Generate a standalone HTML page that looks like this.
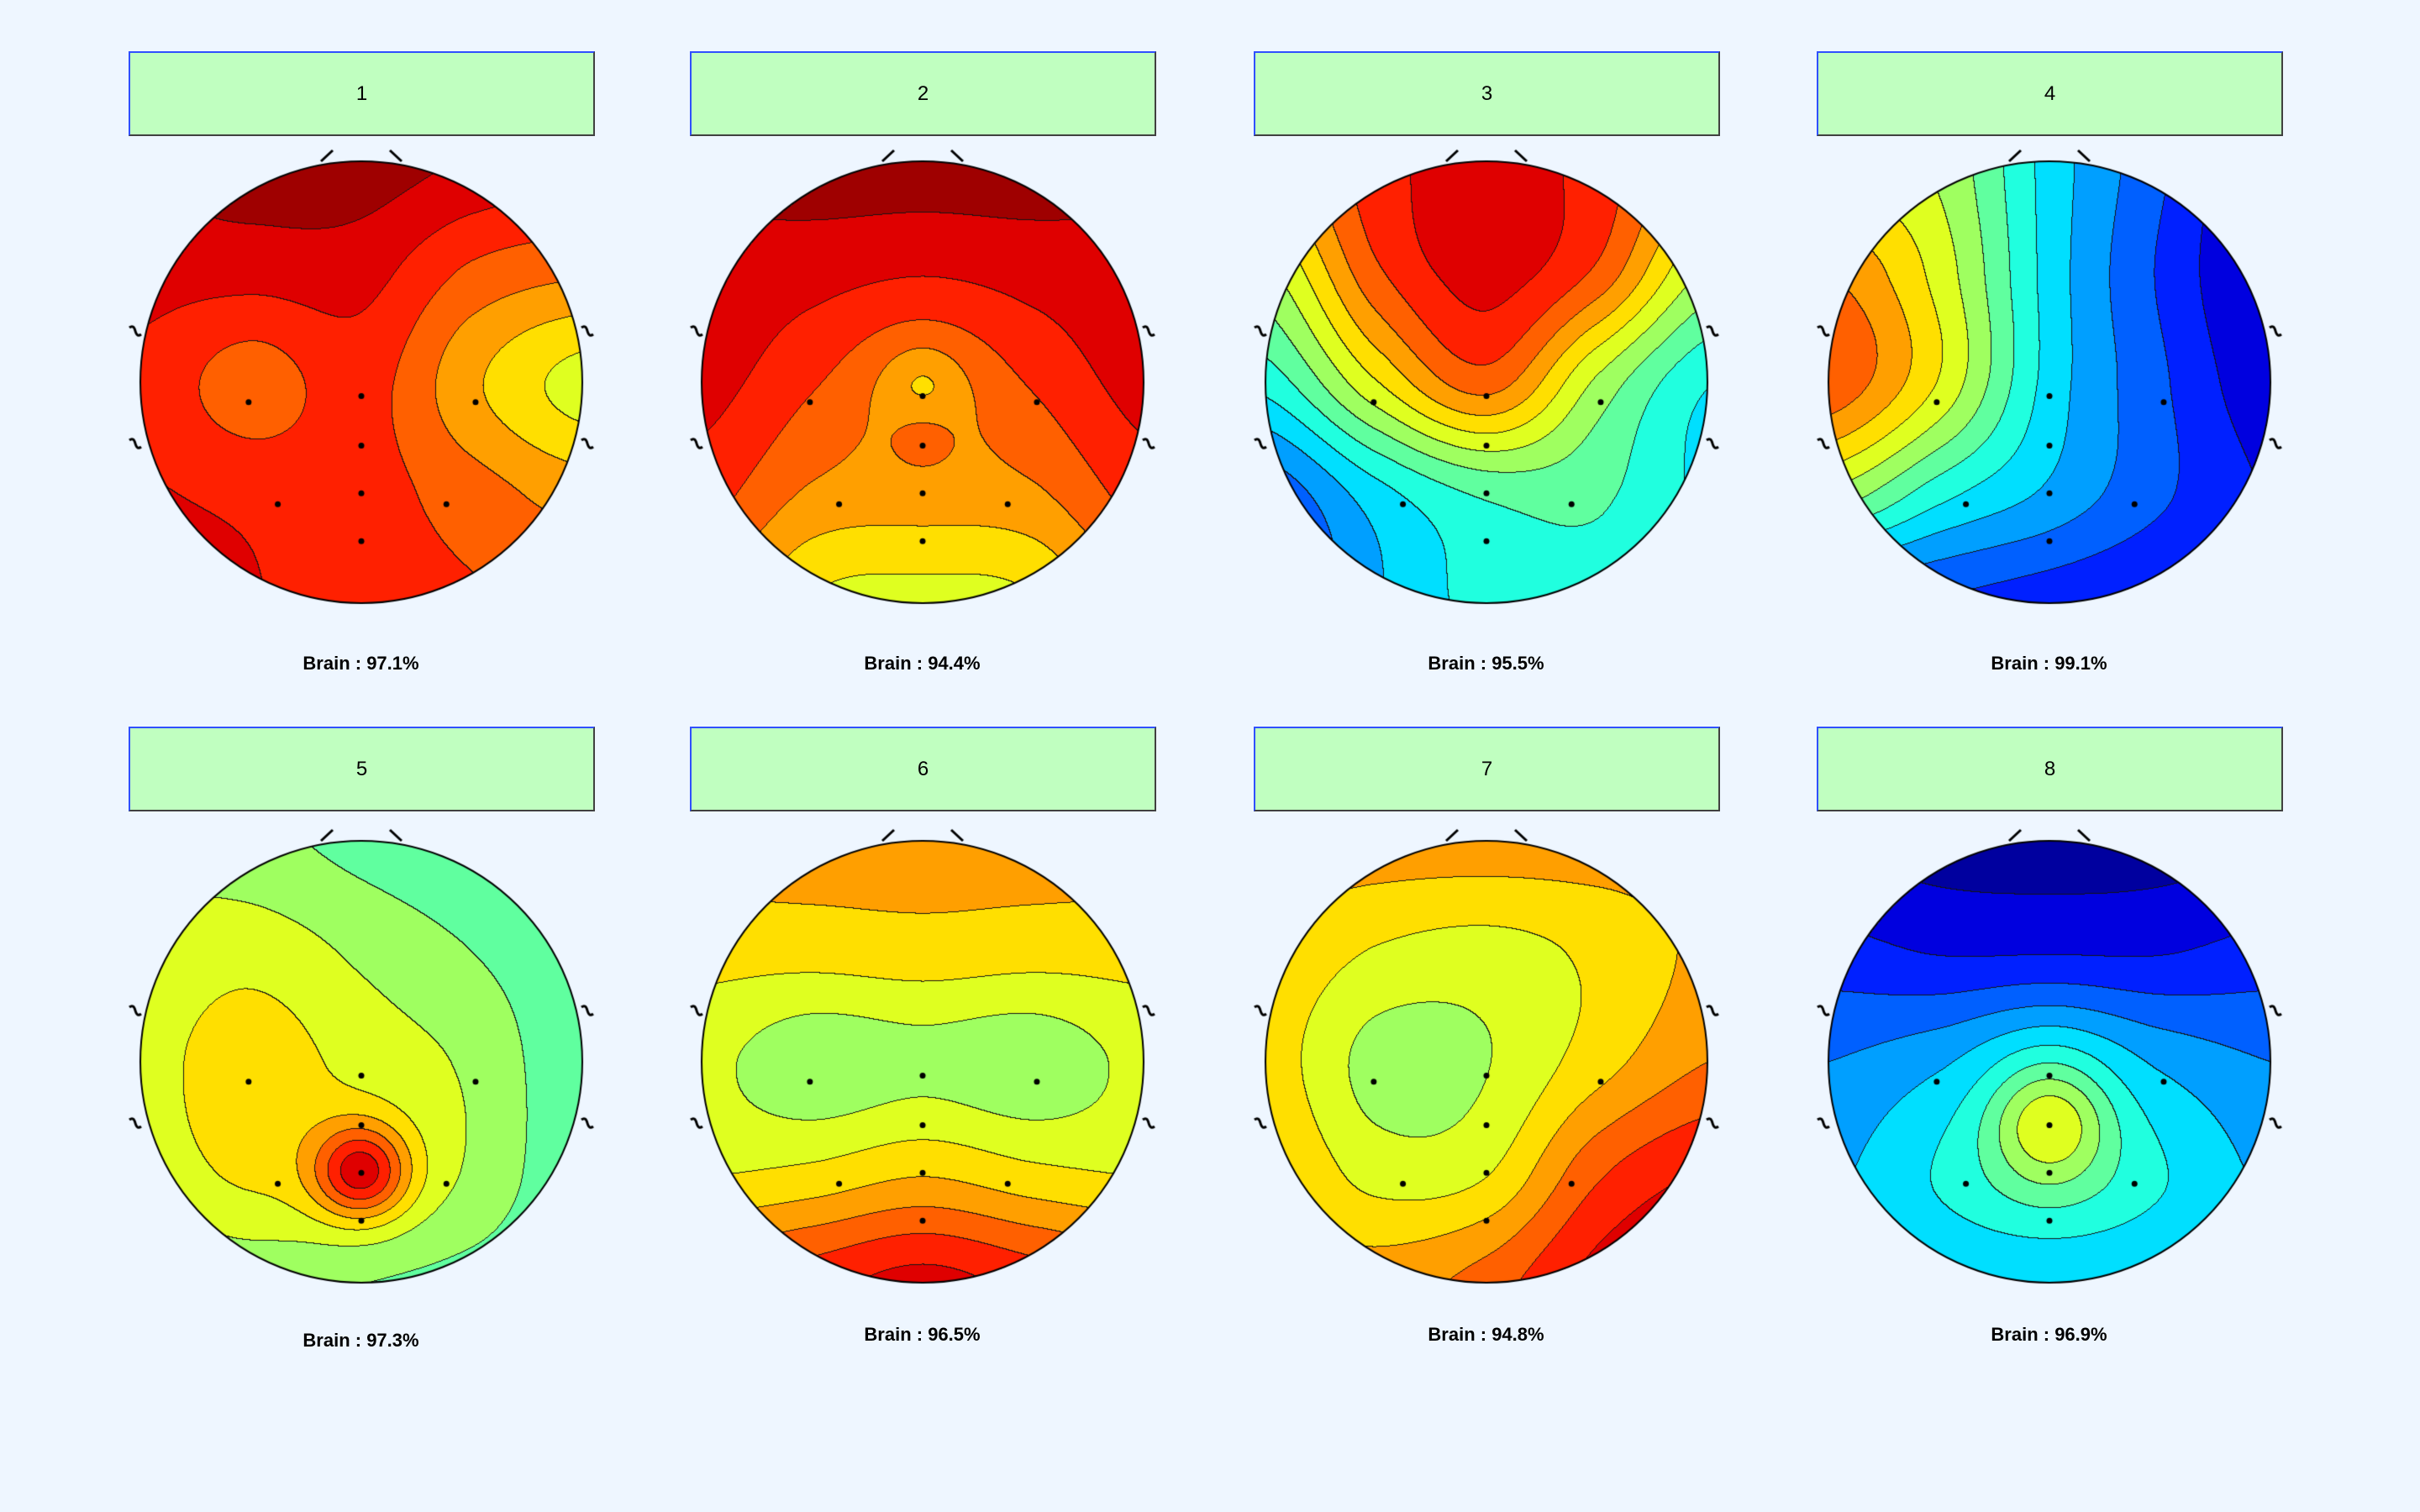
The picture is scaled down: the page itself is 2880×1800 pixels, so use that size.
<!DOCTYPE html>
<html><head><meta charset="utf-8">
<style>
html,body{margin:0;padding:0;background:#eef6ff;}
body{width:2880px;height:1800px;position:relative;overflow:hidden;font-family:"Liberation Sans",sans-serif;}
.hdr{position:absolute;width:551px;height:97px;background:#c0ffc0;border-top:2px solid #3050ff;border-left:2px solid #3050ff;border-right:2px solid #404040;border-bottom:2px solid #404040;font-size:24px;line-height:97px;text-align:center;color:#000;}
.lab{position:absolute;width:553px;text-align:center;font-size:22px;font-weight:bold;color:#000;}
canvas{position:absolute;}
</style></head>
<body>
<div id="root"></div>
<script>
// 5x5 value grids (rows top->bottom, cols left->right), jet scale 0..1
const map1=[[0.95,0.97,0.97,0.93,0.9],[0.9,0.9,0.9,0.8,0.76],[0.86,0.78,0.84,0.7,0.6],[0.88,0.86,0.84,0.78,0.72],[0.9,0.88,0.84,0.82,0.8]];
const map2=[[0.95,0.97,0.97,0.97,0.95],[0.92,0.9,0.88,0.9,0.92],[0.9,0.82,0.74,0.82,0.9],[0.84,0.74,0.72,0.74,0.84],[0.76,0.62,0.6,0.62,0.76]];
const map3=[[0.7,0.85,0.9,0.85,0.7],[0.55,0.8,0.9,0.8,0.55],[0.4,0.62,0.78,0.55,0.38],[0.2,0.35,0.45,0.45,0.36],[0.15,0.3,0.4,0.42,0.38]];
const map4=[[0.6,0.55,0.35,0.2,0.05],[0.75,0.6,0.35,0.18,0.05],[0.8,0.62,0.35,0.2,0.08],[0.55,0.4,0.3,0.2,0.12],[0.2,0.18,0.15,0.12,0.1]];
const map5=[[0.55,0.52,0.48,0.45,0.42],[0.58,0.6,0.55,0.5,0.45],[0.6,0.66,0.6,0.55,0.45],[0.58,0.64,0.62,0.55,0.45],[0.5,0.52,0.5,0.48,0.45]];
const map6=[[0.72,0.72,0.72,0.72,0.72],[0.65,0.65,0.66,0.65,0.65],[0.58,0.52,0.54,0.52,0.58],[0.62,0.64,0.68,0.64,0.62],[0.8,0.85,0.9,0.85,0.8]];
const map7=[[0.72,0.72,0.72,0.72,0.72],[0.68,0.62,0.6,0.64,0.7],[0.66,0.54,0.56,0.66,0.75],[0.7,0.6,0.62,0.8,0.88],[0.74,0.72,0.78,0.9,0.95]];
const map8=[[0.05,0.04,0.04,0.04,0.05],[0.15,0.12,0.12,0.12,0.15],[0.25,0.3,0.38,0.3,0.25],[0.3,0.38,0.45,0.38,0.3],[0.32,0.32,0.32,0.32,0.32]];
// local peaks [x,y,amp,sigma] in normalized head coords
const peaks2=[[0,0.0,-0.06,0.12],[0,0.25,0.05,0.1]];
const peaks5=[[0,0.5,0.3,0.15]];
const peaks8=[[0,0.28,0.18,0.18]];
const titles=["1","2","3","4","5","6","7","8"];
const brain=["Brain : 97.1%","Brain : 94.4%","Brain : 95.5%","Brain : 99.1%","Brain : 97.3%","Brain : 96.5%","Brain : 94.8%","Brain : 96.9%"];
const electrodes=[[-0.51,0.09],[0,0.063],[0.517,0.09],[0,0.287],[-0.378,0.552],[0,0.503],[0.385,0.552],[0,0.72]];
const grids=[map1,map2,map3,map4,map5,map6,map7,map8];
const peaksAll=[[],peaks2,[],[],peaks5,[],[],peaks8];
const NLEV=16;

const colX=[430,1098,1769,2439], rowY=[455,1264], R=263;
const labY=[[790,790,790,790],[1596,1589,1589,1589]];
const root=document.getElementById('root');
function jet(v){const c=t=>Math.max(0,Math.min(1,t));return [c(1.5-Math.abs(4*v-3)),c(1.5-Math.abs(4*v-2)),c(1.5-Math.abs(4*v-1))].map(t=>Math.round(t*255));}
function cr(p0,p1,p2,p3,t){return 0.5*((2*p1)+(-p0+p2)*t+(2*p0-5*p1+4*p2-p3)*t*t+(-p0+3*p1-3*p2+p3)*t*t*t);}
function sample(g,x,y){
  const u=(x+1)*2,v=(y+1)*2;const i=Math.min(3,Math.floor(u)),j=Math.min(3,Math.floor(v));
  const tu=u-i,tv=v-j;const G=(r,c)=>g[Math.max(0,Math.min(4,r))][Math.max(0,Math.min(4,c))];
  const rows=[];for(let k=-1;k<3;k++){const r=j+k;rows.push(cr(G(r,i-1),G(r,i),G(r,i+1),G(r,i+2),tu));}
  return cr(rows[0],rows[1],rows[2],rows[3],tv);
}
for(let p=0;p<8;p++){
  const row=Math.floor(p/4),col=p%4,cx=colX[col],cy=rowY[row];
  const h=document.createElement('div');h.className='hdr';
  
  
  h.style.left=(cx-277)+'px';h.style.top=(row?865:61)+'px';h.textContent=titles[p];root.appendChild(h);
  const l=document.createElement('div');l.className='lab';
  
  
  l.style.left=(cx-277)+'px';l.style.top=(labY[row][col]-13)+'px';l.textContent=brain[p];root.appendChild(l);
  const S=2*R+80;const cv=document.createElement('canvas');cv.width=S;cv.height=S;
  
  
  cv.style.left=(cx-S/2)+'px';cv.style.top=(cy-S/2)+'px';root.appendChild(cv);
  const ctx=cv.getContext('2d');const o=S/2;
  const img=ctx.createImageData(S,S);const bins=new Int16Array(S*S).fill(-1);
  const g=grids[p],pk=peaksAll[p];
  for(let yy=0;yy<S;yy++)for(let xx=0;xx<S;xx++){
    const nx=(xx-o)/R,ny=(yy-o)/R;if(nx*nx+ny*ny>1.0)continue;
    let v=sample(g,nx,ny);for(const q of pk){const d=(nx-q[0])**2+(ny-q[1])**2;v+=q[2]*Math.exp(-d/(2*q[3]*q[3]));}
    v=Math.max(0,Math.min(0.9999,v));bins[yy*S+xx]=Math.floor(v*NLEV);
  }
  for(let yy=0;yy<S;yy++)for(let xx=0;xx<S;xx++){
    const b=bins[yy*S+xx];if(b<0)continue;const k=(yy*S+xx)*4;
    const br=xx+1<S?bins[yy*S+xx+1]:b,bd=yy+1<S?bins[(yy+1)*S+xx]:b;
    let c;if((br>=0&&br!=b)||(bd>=0&&bd!=b))c=[20,20,20];else c=jet((b+0.5)/NLEV);
    img.data[k]=c[0];img.data[k+1]=c[1];img.data[k+2]=c[2];img.data[k+3]=255;
  }
  ctx.putImageData(img,0,0);
  ctx.strokeStyle='#000';ctx.lineWidth=2;
  ctx.beginPath();ctx.arc(o,o,R,0,Math.PI*2);ctx.stroke();
  ctx.lineWidth=3;ctx.beginPath();
  ctx.moveTo(o-48,o-R-0);ctx.lineTo(o-34,o-R-13);ctx.moveTo(o+34,o-R-13);ctx.lineTo(o+48,o-R);ctx.stroke();
  for(const s of [-1,1])for(const dy of [-61,73]){
    const ex=o+s*(R+6),ey=o+dy;ctx.beginPath();
    ctx.moveTo(ex-7,ey-4);ctx.quadraticCurveTo(ex-2,ey-8,ex,ey);ctx.quadraticCurveTo(ex+2,ey+8,ex+7,ey+4);ctx.stroke();
  }
  ctx.fillStyle='#000';
  for(const e of electrodes){ctx.beginPath();ctx.arc(o+e[0]*R,o+e[1]*R,3.5,0,Math.PI*2);ctx.fill();}
}
</script>
</body></html>
